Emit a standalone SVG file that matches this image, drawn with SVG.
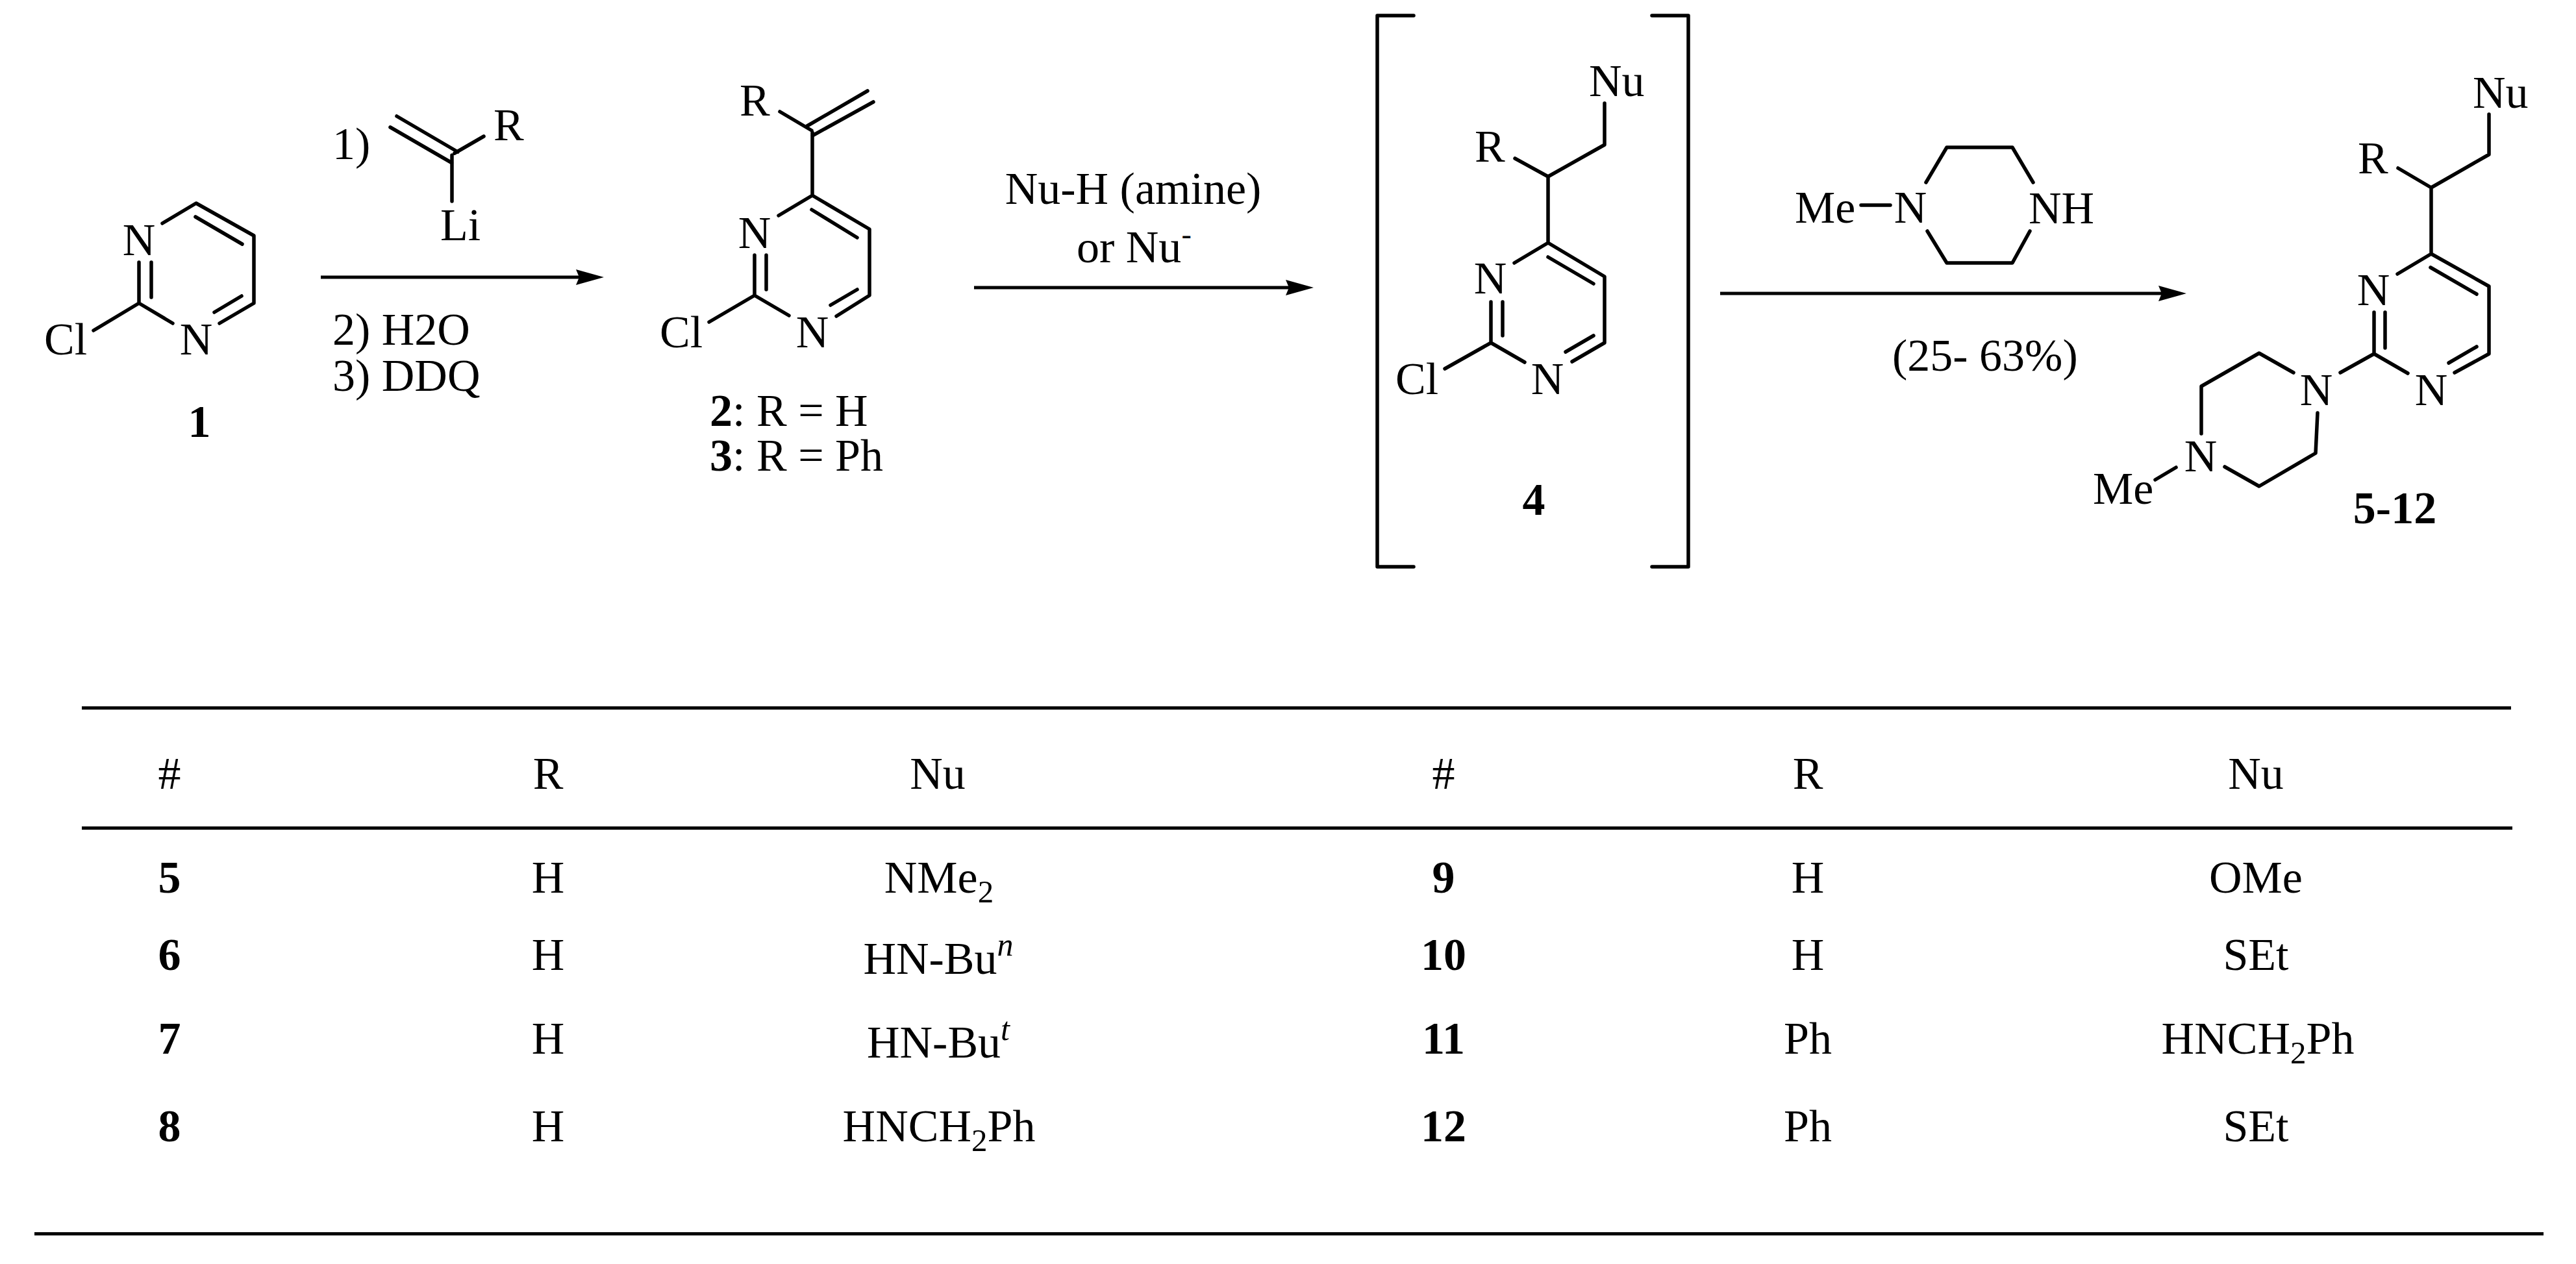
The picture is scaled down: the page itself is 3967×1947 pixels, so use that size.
<svg xmlns="http://www.w3.org/2000/svg" width="3967" height="1947" viewBox="0 0 3967 1947">
<style>
text{font-family:"Liberation Serif","Times New Roman",serif;font-size:70px;fill:#000}
.b{font-weight:700}
.m{text-anchor:middle}
.i{font-style:italic}
.bond{fill:none;stroke:#000;stroke-width:5.5;stroke-linecap:round;stroke-linejoin:round}
.rule{stroke:#000;stroke-width:5}
.arrow{stroke:#000;stroke-width:5;fill:none;marker-end:url(#head)}
</style>
<defs>
<marker id="head" markerUnits="userSpaceOnUse" markerWidth="44" markerHeight="26" viewBox="0 0 44 26" refX="6" refY="13" orient="auto">
<path d="M0 1L43 13L0 25L5 13Z" fill="#000"/>
</marker>
</defs>
<rect width="3967" height="1947" fill="#fff"/>

<g id="compound-1">
<path class="bond" d="M250 344L302 313L391 363V467L338 498M301 334L373 376M372 456L330 481M214 404V467L266 498M233 404V458M214 467L144 509"/>
<text class="m" x="214" y="393">N</text>
<text class="m" x="302" y="546">N</text>
<text x="68" y="546">Cl</text>
<text class="b m" x="307" y="673">1</text>
</g>

<g id="reagent-vinyllithium">
<path class="bond" d="M601 196L696 251M611 179L705 234M700 236L745 210M696 239V310"/>
<text x="512" y="245">1)</text>
<text x="760" y="216">R</text>
<text x="678" y="370">Li</text>
<text x="512" y="531">2) H2O</text>
<text x="512" y="602">3) DDQ</text>
</g>

<g id="compound-2-3">
<path class="bond" d="M1243 194L1336 140M1251 209L1345 157M1201 172L1250 201M1251 204V301L1339 353V455L1288 487M1199 332L1251 301M1250 323L1320 366M1320 446L1279 470M1162 393V455L1215 486M1180 393V446M1162 455L1092 496"/>
<text x="1139" y="178">R</text>
<text class="m" x="1162" y="382">N</text>
<text class="m" x="1251" y="535">N</text>
<text x="1016" y="535">Cl</text>
<text x="1093" y="656"><tspan class="b">2</tspan>: R = H</text>
<text x="1093" y="725"><tspan class="b">3</tspan>: R = Ph</text>
</g>

<g id="conditions-nu">
<text class="m" x="1745" y="314">Nu-H (amine)</text>
<text x="1658" y="404">or Nu<tspan font-size="46" dy="-28">-</tspan></text>
</g>

<g id="compound-4">
<path class="bond" d="M2177 24H2121V873H2177M2544 24H2600V873H2544"/>
<path class="bond" d="M2471 159V223L2384 272L2333 244M2384 272V374L2471 426V528L2421 557M2332 405L2384 374M2384 396L2454 437M2454 517L2411 542M2296 465V528L2348 558M2314 465V517M2296 528L2225 568"/>
<text x="2447" y="148">Nu</text>
<text x="2271" y="249">R</text>
<text class="m" x="2295" y="452">N</text>
<text class="m" x="2383" y="607">N</text>
<text x="2149" y="607">Cl</text>
<text class="b m" x="2362" y="793">4</text>
</g>

<g id="reagent-methylpiperazine">
<path class="bond" d="M2866 316H2911M2966 281L2998 227H3099L3131 281M2968 356L2998 405H3099L3126 356"/>
<text x="2764" y="343">Me</text>
<text class="m" x="2942" y="343">N</text>
<text x="3124" y="344">NH</text>
<text x="2914" y="571">(25- 63%)</text>
</g>

<g id="compound-5-12">
<path class="bond" d="M3833 176V238L3744 289L3693 259M3744 289V391L3833 441V545L3780 574M3692 422L3744 391M3743 412L3814 453M3814 534L3771 559M3656 481V545L3708 575M3673 481V536M3656 545L3604 574M3532 574L3479 544L3390 595V668M3569 636L3566 698L3479 749L3426 719M3319 739L3351 720"/>
<text x="3808" y="166">Nu</text>
<text x="3631" y="267">R</text>
<text class="m" x="3655" y="470">N</text>
<text class="m" x="3744" y="624">N</text>
<text class="m" x="3567" y="624">N</text>
<text class="m" x="3389" y="726">N</text>
<text x="3223" y="776">Me</text>
<text class="b m" x="3688" y="806">5-12</text>
</g>

<g id="connectors">
<line class="arrow" x1="494" y1="427" x2="893" y2="427"/>
<line class="arrow" x1="1500" y1="443" x2="1986" y2="443"/>
<line class="arrow" x1="2649" y1="452" x2="3330" y2="452"/>
</g>

<g id="table">
<line class="rule" x1="126" y1="1090.5" x2="3867" y2="1090.5"/>
<line class="rule" x1="126" y1="1275.5" x2="3869" y2="1275.5"/>
<line class="rule" x1="53" y1="1900.5" x2="3917" y2="1900.5"/>
<text class="m" x="261" y="1215">#</text><text class="m" x="844" y="1215">R</text><text class="m" x="1444" y="1215">Nu</text>
<text class="m" x="2223" y="1215">#</text><text class="m" x="2784" y="1215">R</text><text class="m" x="3474" y="1215">Nu</text>

<text class="m b" x="261" y="1375">5</text><text class="m" x="844" y="1375">H</text><text class="m" x="1446" y="1375">NMe<tspan font-size="49" dy="15">2</tspan></text>
<text class="m b" x="261" y="1494">6</text><text class="m" x="844" y="1494">H</text><text class="m" x="1445" y="1500">HN-Bu<tspan class="i" font-size="50" dy="-28">n</tspan></text>
<text class="m b" x="261" y="1623">7</text><text class="m" x="844" y="1623">H</text><text class="m" x="1445" y="1629">HN-Bu<tspan class="i" font-size="50" dy="-27">t</tspan></text>
<text class="m b" x="261" y="1758">8</text><text class="m" x="844" y="1758">H</text><text class="m" x="1446" y="1758">HNCH<tspan font-size="49" dy="15">2</tspan><tspan dy="-15">Ph</tspan></text>

<text class="m b" x="2223" y="1375">9</text><text class="m" x="2784" y="1375">H</text><text class="m" x="3474" y="1375">OMe</text>
<text class="m b" x="2223" y="1494">10</text><text class="m" x="2784" y="1494">H</text><text class="m" x="3474" y="1494">SEt</text>
<text class="m b" x="2223" y="1623">11</text><text class="m" x="2784" y="1623">Ph</text><text class="m" x="3477" y="1623">HNCH<tspan font-size="49" dy="15">2</tspan><tspan dy="-15">Ph</tspan></text>
<text class="m b" x="2223" y="1758">12</text><text class="m" x="2784" y="1758">Ph</text><text class="m" x="3474" y="1758">SEt</text>
</g>
</svg>
